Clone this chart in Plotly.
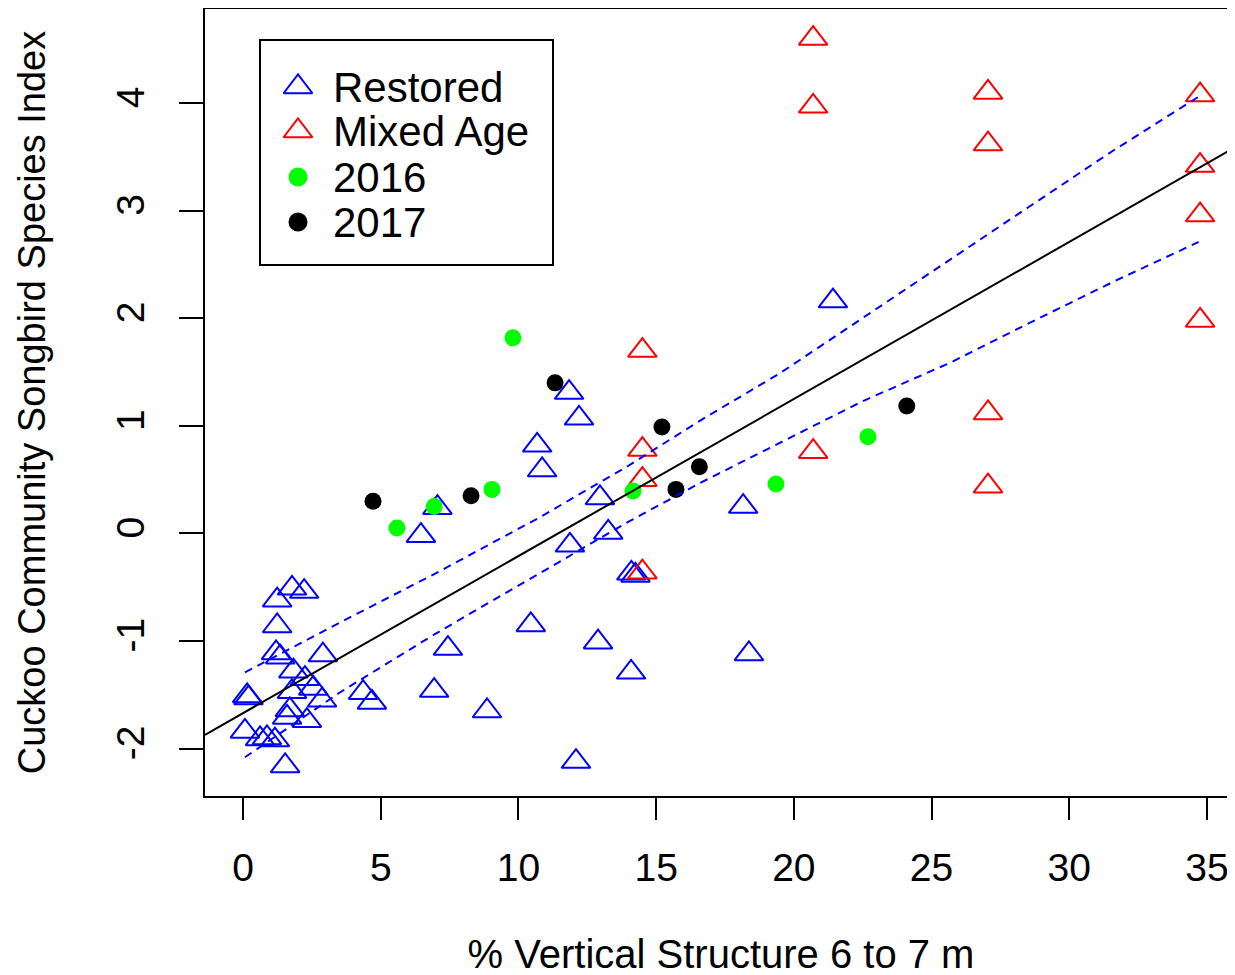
import plotly.graph_objects as go

# ---- data ----
restored_x = [21.42, 11.84, 12.2, 10.68, 10.86, 12.96, 13.26, 11.87, 14.1, 14.25,
              18.16, 7.06, 6.46, 10.45, 7.44, 6.94, 8.86, 4.36, 4.68, 12.89,
              14.09, 18.37, 12.09,
              1.78, 2.22, 1.24, 1.24, 1.2, 1.35, 2.9, 1.83, 2.25, 2.55,
              0.15, 0.2, 1.78, 2.87, 1.7, 2.32, 1.6, 0.07, 0.62, 1.16, 0.87, 1.53]
restored_y = [2.16, 1.31, 1.07, 0.82, 0.59, 0.33, 0.01, -0.11, -0.37, -0.39,
              0.25, 0.24, -0.02, -0.85, -1.07, -1.46, -1.65, -1.48, -1.57, -1.01,
              -1.29, -1.12, -2.12,
              -0.51, -0.54, -0.62, -0.86, -1.11, -1.15, -1.13, -1.28, -1.35, -1.44,
              -1.51, -1.53, -1.47, -1.55, -1.64, -1.74, -1.71, -1.84, -1.91, -1.92, -1.90, -2.16]

mixed_x = [20.7, 20.7, 20.7, 27.05, 27.05, 27.05, 27.05,
           34.75, 34.75, 34.75, 34.75, 14.5, 14.5, 14.5, 14.5]
mixed_y = [4.60, 3.97, 0.76, 4.10, 3.62, 1.12, 0.44,
           4.075, 3.42, 2.96, 1.98, 1.70, 0.78, 0.50, -0.36]

y2016_x = [9.80, 5.59, 6.94, 9.04, 14.16, 19.35, 22.69]
y2016_y = [1.82, 0.05, 0.25, 0.41, 0.395, 0.46, 0.90]

y2017_x = [4.72, 8.28, 11.33, 15.21, 15.72, 16.57, 24.10]
y2017_y = [0.30, 0.35, 1.40, 0.99, 0.41, 0.62, 1.185]

fit_intercept = -1.67
fit_slope = 0.146

band_x = [0.07, 3.5, 7, 10.7, 14, 16.6, 19.5, 22.5, 25.7, 28.5, 31.6, 34.7]
band_upper = [-1.29, -0.83, -0.37, 0.14, 0.63, 1.05, 1.49, 2.00, 2.55, 3.03, 3.56, 4.06]
band_lower = [-2.08, -1.48, -0.93, -0.38, 0.11, 0.47, 0.84, 1.23, 1.59, 1.95, 2.34, 2.71]

x_ticks = [0, 5, 10, 15, 20, 25, 30, 35]
x_tick_labels = ["0", "5", "10", "15", "20", "25", "30", "35"]
y_ticks = [-2, -1, 0, 1, 2, 3, 4]
y_tick_labels = ["-2", "-1", "0", "1", "2", "3", "4"]
x_range = [-1.38, 36.09]
y_range = [-2.44, 4.875]

legend_labels = ["Restored", "Mixed Age", "2016", "2017"]
legend_colors = ["#0000FF", "#FF0000", "#00FF00", "#000000"]
legend_symbols = ["triangle-up-open", "triangle-up-open", "circle", "circle"]
legend_sizes = [25, 25, 17, 17]

FONT = "Liberation Sans, Arial, sans-serif"

# layout frame (screen pixels); the page body adds an 8px offset
W, H = 1235, 975
OFF = 8
PL, PR, PT, PB = 205, 1237, 9, 796
LEG_BOX = (260, 40, 553, 265)
LEG_SYM_X, LEG_TXT_X = 298, 331
LEG_ROW_Y = [87, 131, 177, 222]

fig = go.Figure()
fig.add_trace(go.Scatter(x=restored_x, y=restored_y, mode="markers", name="Restored",
                         showlegend=False,
                         marker=dict(symbol="triangle-up-open", size=25, color="#0000FF",
                                     opacity=1, line=dict(width=2, color="#0000FF"))))
fig.add_trace(go.Scatter(x=mixed_x, y=mixed_y, mode="markers", name="Mixed Age",
                         showlegend=False,
                         marker=dict(symbol="triangle-up-open", size=25, color="#FF0000",
                                     opacity=1, line=dict(width=2, color="#FF0000"))))
fig.add_trace(go.Scatter(x=y2016_x, y=y2016_y, mode="markers", name="2016",
                         showlegend=False,
                         marker=dict(symbol="circle", size=17, color="#00FF00",
                                     opacity=1, line=dict(width=0))))
fig.add_trace(go.Scatter(x=y2017_x, y=y2017_y, mode="markers", name="2017",
                         showlegend=False,
                         marker=dict(symbol="circle", size=17, color="#000000",
                                     opacity=1, line=dict(width=0))))

fit_x = x_range
fit_y = [fit_intercept + fit_slope * v for v in fit_x]
fig.add_trace(go.Scatter(x=fit_x, y=fit_y, mode="lines", showlegend=False,
                         line=dict(color="black", width=2)))
fig.add_trace(go.Scatter(x=band_x, y=band_upper, mode="lines", showlegend=False,
                         line=dict(color="#0000FF", width=2, dash="8px,6px")))
fig.add_trace(go.Scatter(x=band_x, y=band_lower, mode="lines", showlegend=False,
                         line=dict(color="#0000FF", width=2, dash="8px,6px")))

# hand-drawn legend (R style) on an overlay axis in pixel units of the plot frame
fig.add_trace(go.Scatter(
    x=[LEG_SYM_X] * len(legend_labels), y=LEG_ROW_Y, mode="markers",
    xaxis="x2", yaxis="y2", showlegend=False, hoverinfo="skip",
    marker=dict(symbol=legend_symbols, size=legend_sizes, color=legend_colors, opacity=1,
                line=dict(width=2, color=legend_colors))))

fig.add_shape(type="rect", xref="x2", yref="y2",
              x0=LEG_BOX[0], y0=LEG_BOX[1], x1=LEG_BOX[2], y1=LEG_BOX[3],
              line=dict(color="black", width=2), fillcolor="white", layer="below")
for lab, yy in zip(legend_labels, LEG_ROW_Y):
    fig.add_annotation(x=LEG_TXT_X, y=yy, xref="x2", yref="y2", text=lab,
                       showarrow=False, xanchor="left", yanchor="middle",
                       font=dict(family=FONT, size=42, color="black"))

fig.update_layout(
    width=W, height=H,
    margin=dict(l=PL - OFF, r=W - (PR - OFF), t=PT - OFF, b=H - (PB - OFF)),
    paper_bgcolor="white", plot_bgcolor="white",
    font=dict(family=FONT, size=39, color="black"),
    showlegend=False,
    xaxis2=dict(overlaying="x", range=[PL, PR], visible=False, fixedrange=True),
    yaxis2=dict(overlaying="y", range=[PB, PT], visible=False, fixedrange=True),
    xaxis=dict(range=x_range, tickvals=x_ticks, ticktext=x_tick_labels, ticks="outside",
               ticklen=22, tickwidth=2, tickcolor="black", showgrid=False, zeroline=False,
               showline=True, linewidth=2, linecolor="black", mirror=True,
               ticklabelstandoff=14, automargin=False,
               title=dict(text="% Vertical Structure 6 to 7 m", font=dict(size=40), standoff=52)),
    yaxis=dict(range=y_range, tickvals=y_ticks, ticktext=y_tick_labels, ticks="outside",
               ticklen=24, tickwidth=2, tickcolor="black", showgrid=False, zeroline=False,
               showline=True, linewidth=2, linecolor="black", mirror=False, tickangle=-90,
               ticklabelstandoff=19, automargin=False,
               title=dict(text="Cuckoo Community Songbird Species Index", font=dict(size=38),
                          standoff=52)),
)

fig.write_html("out.html")
